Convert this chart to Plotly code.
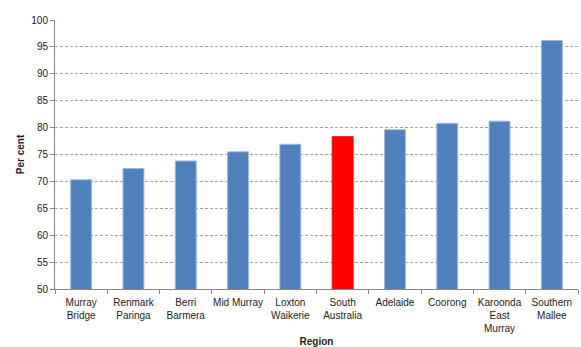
import plotly.graph_objects as go

regions = ["Murray<br>Bridge", "Renmark<br>Paringa", "Berri<br>Barmera", "Mid Murray",
           "Loxton<br>Waikerie", "South<br>Australia", "Adelaide", "Coorong",
           "Karoonda<br>East<br>Murray", "Southern<br>Mallee"]
values = [70.3, 72.4, 73.8, 75.5, 76.9, 78.3, 79.6, 80.8, 81.2, 96.2]
highlight = "South<br>Australia"

bar_colors = ["#FF0000" if r == highlight else "#4F81BD" for r in regions]
edge_colors = ["#FF0000" if r == highlight else "#9DB9DE" for r in regions]

fig = go.Figure(go.Bar(
    x=regions, y=values,
    marker=dict(color=bar_colors, line=dict(color=edge_colors, width=1)),
    width=0.4,
))

font = "Liberation Sans, Arial, sans-serif"
fig.update_layout(
    width=581, height=347,
    margin=dict(l=55, r=3, t=20, b=58),
    paper_bgcolor="white", plot_bgcolor="white",
    showlegend=False,
    font=dict(family=font, size=10, color="#222222"),
    xaxis=dict(
        type="category", automargin=False, tickangle=0,
        showline=True, linecolor="#888888", linewidth=1,
        ticks="outside", tickson="boundaries", ticklen=4, tickcolor="#888888",
        ticklabelstandoff=4,
        tickfont=dict(size=10),
        title=dict(text="<b>Region</b>", font=dict(size=10), standoff=14),
    ),
    yaxis=dict(
        range=[50, 100], dtick=5, automargin=False,
        showline=True, linecolor="#888888", linewidth=1,
        ticks="outside", ticklen=4, tickcolor="#888888",
        showgrid=True, gridcolor="#A6A6A6", griddash="3px,2px", gridwidth=1,
        zeroline=False,
        tickfont=dict(size=10),
        title=dict(text="<b>Per cent</b>", font=dict(size=10), standoff=4),
    ),
)

fig.write_html("out.html")
